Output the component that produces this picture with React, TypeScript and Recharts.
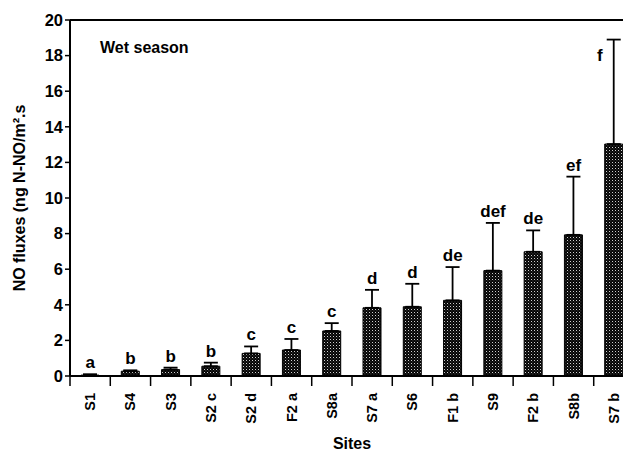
import React from 'react';
import { ComposedChart, Bar, Line, XAxis, YAxis, ErrorBar, LabelList, ReferenceLine, Label } from 'recharts';

const sites = ['S1', 'S4', 'S3', 'S2 c', 'S2 d', 'F2 a', 'S8a', 'S7 a', 'S6', 'F1 b', 'S9', 'F2 b', 'S8b', 'S7 b'];
const fluxes = [0.05, 0.27, 0.36, 0.55, 1.27, 1.46, 2.53, 3.83, 3.89, 4.25, 5.92, 6.98, 7.93, 13.03];
const upperBars = [0.1, 0.32, 0.47, 0.75, 1.66, 2.08, 2.97, 4.84, 5.18, 6.12, 8.6, 8.18, 11.2, 18.9];
const letters = ['a', 'b', 'b', 'b', 'c', 'c', 'c', 'd', 'd', 'de', 'def', 'de', 'ef', 'f'];
const yTicks = [0, 2, 4, 6, 8, 10, 12, 14, 16, 18, 20];

const data = sites.map((site, i) => ({
  site,
  flux: fluxes[i],
  err: [0, upperBars[i] - fluxes[i]],
  top: upperBars[i],
  letter: letters[i],
}));

const FONT = '"Liberation Sans", Arial, sans-serif';

const SiteTick = (props: any) => {
  const { x, y, payload } = props;
  const half = payload && payload.offset ? payload.offset : 20;
  return (
    <g>
      <line x1={x - half} y1={y - 8} x2={x - half} y2={y + 2} stroke="#000" strokeWidth={1.5} />
      <text
        x={x}
        y={y + 9}
        transform={`rotate(-90, ${x}, ${y + 9})`}
        textAnchor="end"
        dominantBaseline="central"
        fontFamily={FONT}
        fontWeight="bold"
        fontSize={14.5}
        fill="#000"
      >
        {payload.value}
      </text>
    </g>
  );
};

const LetterLabel = (props: any) => {
  const { x, y, value, index } = props;
  // the last letter sits beside its long whisker, as in the figure
  const last = index === sites.length - 1;
  return (
    <text
      x={last ? x - 14 : x}
      y={last ? y + 21 : y - 6}
      textAnchor="middle"
      fontFamily={FONT}
      fontWeight="bold"
      fontSize={17}
      fill="#000"
    >
      {value}
    </text>
  );
};

export default function App() {
  return (
    <div style={{ position: 'absolute', left: 0, top: 0, width: 623, height: 452, overflow: 'hidden', background: '#fff' }}>
      <ComposedChart
        width={634}
        height={452}
        data={data}
        margin={{ top: 20, right: 0, left: 0, bottom: 0 }}
      >
        <defs>
          <pattern id="dots" width="3" height="3" patternUnits="userSpaceOnUse">
            <rect width="3" height="3" fill="#050505" />
            <rect x="0" y="0" width="1" height="1" fill="#cfcfcf" />
            <rect x="1.5" y="1.5" width="0.8" height="0.8" fill="#777" />
          </pattern>
        </defs>
        <XAxis
          dataKey="site"
          interval={0}
          height={76}
          tickLine={false}
          axisLine={{ stroke: '#000', strokeWidth: 2 }}
          tick={<SiteTick />}
        >
          <Label
            value="Sites"
            position="insideBottom"
            offset={3}
            style={{ fontFamily: FONT, fontWeight: 'bold', fontSize: 16, fill: '#000' }}
          />
        </XAxis>
        <YAxis
          domain={[0, 20]}
          ticks={yTicks}
          interval={0}
          width={70}
          tickSize={5}
          axisLine={{ stroke: '#000', strokeWidth: 2 }}
          tickLine={{ stroke: '#000', strokeWidth: 1.5 }}
          tick={{ fontFamily: FONT, fontWeight: 'bold', fontSize: 16.5, fill: '#000' }}
        >
          <Label
            value="NO fluxes (ng N-NO/m².s"
            angle={-90}
            position="insideLeft"
            offset={19}
            dy={0}
            style={{ fontFamily: FONT, fontWeight: 'bold', fontSize: 16, fill: '#000', textAnchor: 'middle' }}
          />
        </YAxis>
        <ReferenceLine y={20} stroke="#000" strokeWidth={2} />
        <Bar dataKey="flux" fill="url(#dots)" stroke="#000" strokeWidth={1} barSize={18} isAnimationActive={false}>
          <ErrorBar dataKey="err" width={7} stroke="#000" strokeWidth={1.8} direction="y" />
        </Bar>
        <Line dataKey="top" stroke="none" dot={false} activeDot={false} isAnimationActive={false}>
          <LabelList dataKey="letter" content={<LetterLabel />} />
        </Line>
        <text x={100} y={53} fontFamily={FONT} fontWeight="bold" fontSize={16} fill="#000">
          Wet season
        </text>
      </ComposedChart>
    </div>
  );
}
